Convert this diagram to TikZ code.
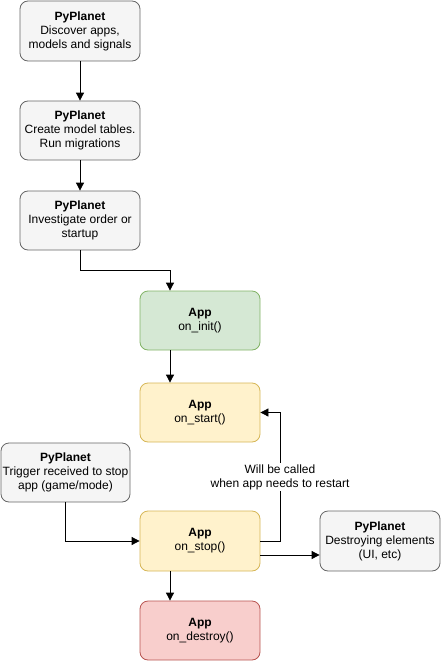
\documentclass[tikz,border=0pt]{standalone}
\usepackage{fontspec}
\setmainfont{Liberation Sans}
\usetikzlibrary{arrows.meta,calc}
\definecolor{gfill}{HTML}{F5F5F5}
\definecolor{gdraw}{HTML}{666666}
\definecolor{grfill}{HTML}{D5E8D4}
\definecolor{grdraw}{HTML}{82B366}
\definecolor{yfill}{HTML}{FFF2CC}
\definecolor{ydraw}{HTML}{D6B656}
\definecolor{rfill}{HTML}{F8CECC}
\definecolor{rdraw}{HTML}{B85450}
\begin{document}
\begin{tikzpicture}[x=1pt,y=-1pt,
  box/.style={rounded corners=8pt, minimum width=120pt, minimum height=60pt, align=center, inner sep=1pt,
    font=\fontsize{12pt}{14pt}\selectfont, line width=0.8pt},
  pp/.style={box, fill=gfill, draw=gdraw},
  appg/.style={box, fill=grfill, draw=grdraw},
  appy/.style={box, fill=yfill, draw=ydraw},
  appr/.style={box, fill=rfill, draw=rdraw},
  arr/.style={draw, line width=0.8pt, -{Triangle[width=8pt,length=8pt]}},
  lbl/.style={fill=white, align=center, inner sep=1pt, font=\fontsize{12pt}{14pt}\selectfont}
]
\useasboundingbox (0,0) rectangle (441,661);
\node[pp] (disc) at (80,31) {\textbf{PyPlanet}\\Discover apps,\\models and signals};
\node[pp, minimum height=59pt] (create) at (80,130.5) {\textbf{PyPlanet}\\Create model tables.\\Run migrations};
\node[pp, minimum height=59pt] (invest) at (80,220.5) {\textbf{PyPlanet}\\Investigate order or\\startup};
\node[appg, minimum height=59pt] (init) at (200,320.5) {\textbf{App}\\on\_init()};
\node[appy, minimum height=59pt] (start) at (200,412.5) {\textbf{App}\\on\_start()};
\node[pp, minimum width=129pt, minimum height=59pt] (trig) at (65.5,472.5) {\textbf{PyPlanet}\\Trigger received to stop\\app (game/mode)};
\node[appy] (stop) at (200,541) {\textbf{App}\\on\_stop()};
\node[pp] (destroyel) at (380,541) {\textbf{PyPlanet}\\Destroying elements\\(UI, etc)};
\node[appr, minimum height=59pt] (destroy) at (200,630.5) {\textbf{App}\\on\_destroy()};

\draw[arr] (disc) -- (create);
\draw[arr] (create) -- (invest);
\coordinate (initin) at ([xshift=-30pt]init.north);
\draw[arr] (invest.south) -- ++(0,20) -| (initin);
\draw[arr] ([xshift=-30pt]init.south) -- ([xshift=-30pt]start.north);
\draw[arr] (trig.south) |- (stop.west);
\draw[arr] (stop.east) -- ++(20,0) coordinate (bend) |- (start.east);
\node[lbl] (note) at (280,477) {Will be called\\when app needs to restart};
\draw[arr] ([yshift=-14pt]stop.east) -- ([yshift=-14pt]stop.east -| destroyel.west);
\draw[arr] ([xshift=-30pt]stop.south) -- ([xshift=-30pt]destroy.north);
\end{tikzpicture}
\end{document}
